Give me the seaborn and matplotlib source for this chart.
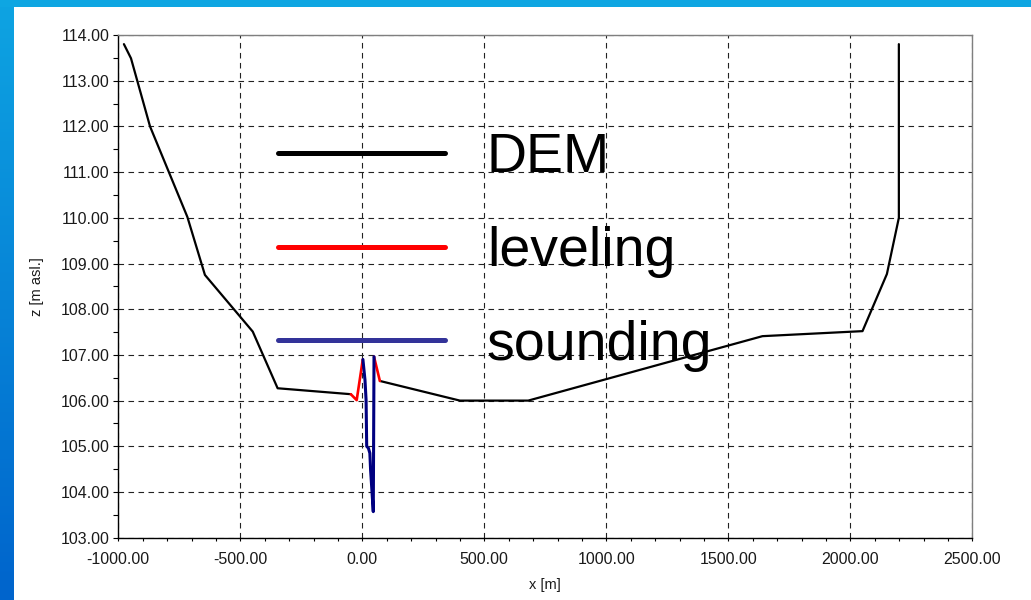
import numpy as np
import pandas as pd
import matplotlib
matplotlib.use("Agg")
import matplotlib.pyplot as plt
from matplotlib import font_manager
from matplotlib.lines import Line2D
from matplotlib.ticker import MultipleLocator, FormatStrFormatter
import seaborn as sns

# ---------------- data ----------------
dem_x = [-977, -948, -870, -717, -645, -449, -347, -47,
         72, 400, 680, 1640, 2050, 2150, 2199, 2199]
dem_z = [113.80, 113.49, 112.00, 110.02, 108.75, 107.51, 106.27, 106.14,
         106.43, 106.00, 106.00, 107.41, 107.52, 108.77, 110.00, 113.80]
dem_seg = [0, 0, 0, 0, 0, 0, 0, 0, 1, 1, 1, 1, 1, 1, 1, 1]

lev_x = [-47, -23, 2, 48, 72]
lev_z = [106.14, 106.01, 106.90, 106.96, 106.43]
lev_seg = [0, 0, 0, 1, 1]

snd_x = [2.5, 11, 15.5, 18, 25, 31, 34, 45, 48]
snd_z = [106.90, 106.45, 106.01, 105.00, 104.96, 104.85, 104.48, 103.57, 106.96]

legend_labels = ["DEM", "leveling", "sounding"]
x_label = "x [m]"
y_label = "z [m asl.]"

# ---------------- style ----------------
sns.set_theme(style="white")
avail = {f.name for f in font_manager.fontManager.ttflist}
base_font = "Liberation Sans" if "Liberation Sans" in avail else "DejaVu Sans"
leg_font = "Liberation Sans Narrow" if "Liberation Sans Narrow" in avail else base_font
plt.rcParams["font.family"] = [base_font, "DejaVu Sans"]

W, H = 1031, 600
fig = plt.figure(figsize=(W / 100, H / 100), dpi=100, facecolor="white")

# blue slide bands
band_l = fig.add_axes([0, 0, 14 / W, 1])
grad = np.linspace(0, 1, 256)[:, None]
top_c = np.array([14, 164, 226]) / 255
bot_c = np.array([0, 100, 204]) / 255
img = top_c[None, None, :] * (1 - grad[:, :, None]) + bot_c[None, None, :] * grad[:, :, None]
band_l.imshow(img, aspect="auto", extent=[0, 1, 0, 1])
band_l.set_axis_off()
band_t = fig.add_axes([0, 1 - 7 / H, 1, 7 / H])
band_t.set_facecolor((14 / 255, 166 / 255, 226 / 255))
band_t.set_xticks([]); band_t.set_yticks([])
for s in band_t.spines.values():
    s.set_visible(False)

ax = fig.add_axes([118.3 / W, 1 - 537.7 / H, (972.3 - 118.3) / W, (537.7 - 35) / H])
ax.set_facecolor("white")

dem = pd.DataFrame({"x": dem_x, "z": dem_z, "seg": dem_seg})
lev = pd.DataFrame({"x": lev_x, "z": lev_z, "seg": lev_seg})
snd = pd.DataFrame({"x": snd_x, "z": snd_z})

sns.lineplot(data=dem, x="x", y="z", units="seg", estimator=None, sort=False,
             color="black", lw=1.6, ax=ax)
sns.lineplot(data=lev, x="x", y="z", units="seg", estimator=None, sort=False,
             color="#ff0000", lw=1.9, ax=ax)
sns.lineplot(data=snd, x="x", y="z", estimator=None, sort=False,
             color="#000080", lw=2.2, ax=ax)

ax.set_xlim(-1000, 2500)
ax.set_ylim(103, 114)
ax.xaxis.set_major_locator(MultipleLocator(500))
ax.xaxis.set_minor_locator(MultipleLocator(100))
ax.yaxis.set_major_locator(MultipleLocator(1))
ax.yaxis.set_minor_locator(MultipleLocator(0.5))
ax.xaxis.set_major_formatter(FormatStrFormatter("%.2f"))
ax.yaxis.set_major_formatter(FormatStrFormatter("%.2f"))

ax.grid(True, which="major", color="#222222", lw=0.8, linestyle=(0, (5, 4)))
ax.tick_params(axis="y", which="both", direction="out", length=3.5, width=0.8,
               color="black", left=True, labelsize=11.5, labelcolor="#1a1a1a", pad=3)
ax.tick_params(axis="x", which="both", direction="out", length=2.2, width=0.8,
               color="black", bottom=True, labelsize=11.5, labelcolor="#1a1a1a", pad=8)

for side in ["left", "bottom"]:
    ax.spines[side].set_color("black")
    ax.spines[side].set_linewidth(1.0)
for side in ["top", "right"]:
    ax.spines[side].set_color("#7f7f7f")
    ax.spines[side].set_linewidth(1.0)
    ax.spines[side].set_visible(True)

ax.set_xlabel(x_label, fontsize=10.5, color="#1a1a1a", labelpad=8)
ax.set_ylabel(y_label, fontsize=10.5, color="#1a1a1a", labelpad=12)

handles = [Line2D([], [], color="black", lw=3.6),
           Line2D([], [], color="#ff0000", lw=3.6),
           Line2D([], [], color="#333399", lw=3.6)]
leg = ax.legend(handles, legend_labels, loc="center left",
                bbox_to_anchor=(278 / W, 1 - 252 / H), bbox_transform=fig.transFigure,
                frameon=False, prop={"family": leg_font, "size": 40},
                handlelength=3.0, handletextpad=0.76, labelspacing=0.75,
                borderpad=0, borderaxespad=0)
for t in leg.get_texts():
    t.set_color("black")

fig.savefig("out.png", dpi=100, facecolor="white")
